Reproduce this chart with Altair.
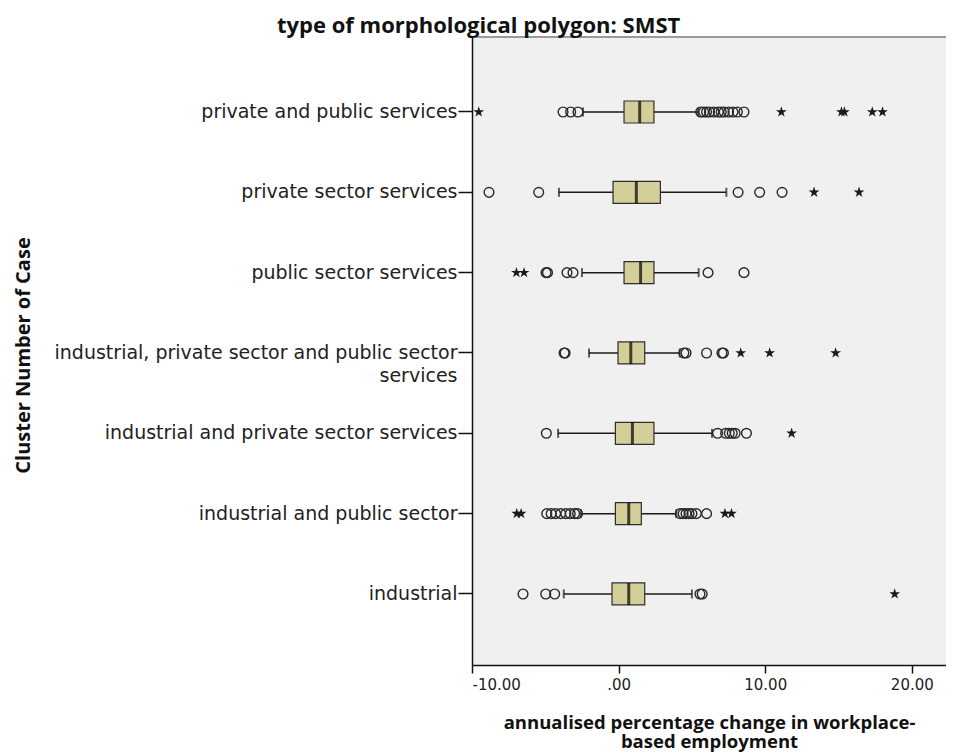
import altair as alt
import pandas as pd

# ---- data (top to bottom) ----
categories = [
    "private and public services",
    "private sector services",
    "public sector services",
    "industrial, private sector and public sector services",
    "industrial and private sector services",
    "industrial and public sector",
    "industrial",
]
q1 = [0.37, -0.38, 0.37, -0.04, -0.22, -0.22, -0.45]
median = [1.44, 1.21, 1.50, 0.83, 0.94, 0.69, 0.69]
q3 = [2.41, 2.85, 2.41, 1.78, 2.41, 1.55, 1.78]
whisker_lo = [-2.43, -4.07, -2.50, -2.02, -4.13, -2.58, -3.74]
whisker_hi = [5.42, 7.35, 5.46, 4.17, 6.37, 3.94, 5.00]

circle_outliers = [
    [-3.79, -3.27, -2.77, 5.6, 5.8, 6.0, 6.2, 6.5, 6.8, 7.0, 7.2, 7.5, 7.8, 8.1, 8.55],
    [-8.84, -5.45, 8.15, 9.62, 11.15],
    [-4.95, -4.85, -3.52, -3.11, 6.1, 8.55],
    [-3.72, -3.65, 4.45, 4.6, 6.0, 7.05, 7.15],
    [-4.93, 6.75, 7.3, 7.55, 7.75, 7.95, 8.72],
    [-4.9, -4.6, -4.3, -3.95, -3.6, -3.3, -3.0, -2.8, 4.2, 4.4, 4.6, 4.8, 5.0, 5.3, 6.0],
    [-6.52, -4.97, -4.36, 5.55, 5.7],
]
star_outliers = [
    [-9.54, 11.1, 15.2, 15.4, 17.3, 18.0],
    [13.33, 16.4],
    [-6.97, -6.45],
    [8.33, 10.3, 14.8],
    [11.8],
    [-6.95, -6.65, 7.25, 7.7],
    [18.83],
]
x_ticks = [-10, 0, 10, 20]

summary = pd.DataFrame({
    "cluster": categories, "q1": q1, "median": median, "q3": q3,
    "lo": whisker_lo, "hi": whisker_hi,
})
caps = pd.DataFrame({
    "cluster": categories + categories,
    "end": whisker_lo + whisker_hi,
})
circles = pd.DataFrame(
    [(c, v) for c, vals in zip(categories, circle_outliers) for v in vals],
    columns=["cluster", "value"],
)
stars = pd.DataFrame(
    [(c, v) for c, vals in zip(categories, star_outliers) for v in vals],
    columns=["cluster", "value"],
)

W, H = 474, 628
x_title = ["annualised percentage change in workplace-", "based employment"]
x_scale = alt.Scale(domain=[-10, 22.33], nice=False, zero=False)
x_axis = alt.Axis(
    values=x_ticks,
    labelExpr="datum.value == 0 ? '.00' : (datum.value < 0 ? '-' : '') + format(abs(datum.value), '.2f')",
    labelFont="DejaVu Sans", labelFontSize=15, labelColor="#222",
    labelPadding=4, tickSize=8, tickColor="#111", tickWidth=1.5,
    domainColor="#111", domainWidth=1.5, grid=False,
    titleFont="Open Sans", titleFontSize=18.5, titleFontWeight="bold",
    titleColor="#111", titleLineHeight=19, titleBaseline="alphabetic",
    titleY=63, titleX=W / 2,
)


def X(field):
    return alt.X(field, type="quantitative", scale=x_scale, axis=x_axis, title=x_title)


label_expr = (
    "datum.label == 'industrial, private sector and public sector services' ? "
    "['industrial, private sector and public sector', 'services'] : datum.label"
)
Y = alt.Y(
    "cluster:N",
    sort=categories,
    scale=alt.Scale(domain=categories, paddingInner=0, paddingOuter=0.409, align=0.53),
    title="Cluster Number of Case",
    axis=alt.Axis(
        labelExpr=label_expr, labelFont="DejaVu Sans", labelFontSize=19,
        labelColor="#222", labelLimit=600, labelLineHeight=23, labelPadding=1,
        labelBaseline="middle", bandPosition=0.5,
        tickSize=14, tickColor="#111", tickWidth=1.5,
        domainColor="#111", domainWidth=1.5, grid=False,
        titleFont="Open Sans", titleFontSize=20, titleFontWeight="bold",
        titleColor="#111", titleX=-449, titleY=318, titleBaseline="middle",
        titleAlign="center", titleAngle=270,
    ),
)

star_path = ("M0,-1L0.225,-0.31L0.951,-0.309L0.364,0.118L0.588,0.809L0,0.382"
             "L-0.588,0.809L-0.364,0.118L-0.951,-0.309L-0.225,-0.31Z")

whiskers = alt.Chart(summary).mark_rule(color="#1a1a1a", strokeWidth=1.5).encode(
    x=X("lo"), x2="hi", y=Y)
cap_marks = alt.Chart(caps).mark_tick(color="#1a1a1a", thickness=2, size=9).encode(
    x=X("end"), y=Y)
boxes = alt.Chart(summary).mark_bar(
    size=22, fill="#d4cf99", stroke="#2e2e2e", strokeWidth=1.2).encode(
    x=X("q1"), x2="q3", y=Y)
medians = alt.Chart(summary).mark_tick(color="#000", thickness=3, size=22).encode(
    x=X("median"), y=Y)
circ = alt.Chart(circles).mark_point(
    shape="circle", size=95, filled=False, stroke="#2a2a2a", strokeWidth=1.4,
    opacity=1).encode(x=X("value"), y=Y)
star = alt.Chart(stars).mark_point(
    shape=star_path, size=130, filled=True, fill="#1a1a1a", opacity=1).encode(
    x=X("value"), y=Y)
top_border = alt.Chart(pd.DataFrame({"k": [0]})).mark_rule(
    color="#9a9a9a", strokeWidth=2).encode(
    y=alt.value(0), x=alt.value(0), x2=alt.value(W))

chart = alt.layer(whiskers, cap_marks, boxes, medians, circ, star, top_border).properties(
    width=W, height=H,
    autosize=alt.AutoSizeParams(type="none"),
    padding={"left": 464, "top": 29, "right": 0, "bottom": 88},
    title=alt.TitleParams(
        text="type of morphological polygon: SMST", font="Open Sans",
        fontSize=22, fontWeight="bold", color="#111", anchor="start",
        frame="group", dx=-195, offset=-19, baseline="alphabetic"),
    background="white",
).configure_view(fill="#f0f0f0", stroke="transparent")

chart.save("out.html", embed_options={"renderer": "svg", "actions": False})
